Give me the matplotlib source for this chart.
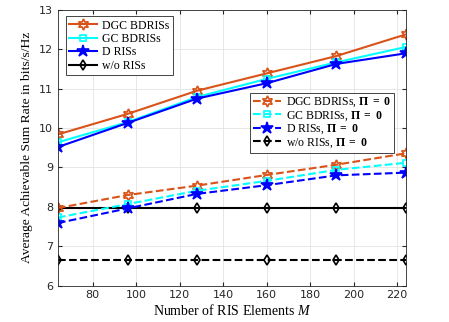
import matplotlib
matplotlib.use("Agg")
import matplotlib.pyplot as plt
import numpy as np

# Daten
M = [64, 96, 128, 160, 192, 224]
dgc = [9.84, 10.36, 10.95, 11.39, 11.83, 12.38]
gc = [9.64, 10.15, 10.79, 11.25, 11.67, 12.06]
d_ris = [9.52, 10.13, 10.75, 11.14, 11.63, 11.90]
wo = [7.97, 7.97, 7.97, 7.97, 7.97, 7.97]
dgc_0 = [7.97, 8.30, 8.54, 8.81, 9.07, 9.36]
gc_0 = [7.73, 8.07, 8.41, 8.66, 8.94, 9.12]
d_ris_0 = [7.59, 7.96, 8.33, 8.55, 8.80, 8.87]
wo_0 = [6.66, 6.66, 6.66, 6.66, 6.66, 6.66]

labels = ["DGC BDRISs", "GC BDRISs", "D RISs", "w/o RISs"]
labels_0 = [r"DGC BDRISs, $\mathbf{\Pi}\ \mathbf{=}\ \mathbf{0}$",
            r"GC BDRISs, $\mathbf{\Pi}\ \mathbf{=}\ \mathbf{0}$",
            r"D RISs, $\mathbf{\Pi}\ \mathbf{=}\ \mathbf{0}$",
            r"w/o RISs, $\mathbf{\Pi}\ \mathbf{=}\ \mathbf{0}$"]

farben = ["#D95319", "#00FFFF", "#0000FF", "#000000"]
hexagram = (6, 1, 0)
marker = [hexagram, "s", "*", "d"]
msize = [8, 5, 9, 5]
face = ["none", "none", "#0000FF", "none"]

plt.rcParams['mathtext.fontset'] = 'custom'
plt.rcParams['mathtext.rm'] = 'Liberation Serif'
plt.rcParams['mathtext.it'] = 'Liberation Serif:italic'
plt.rcParams['mathtext.bf'] = 'Liberation Serif:bold'
serif = "Liberation Serif"

fig = plt.figure(figsize=(4.49, 3.22), dpi=100)
ax = fig.add_axes([0.129, 0.113, 0.775, 0.856])

h1 = []
for y, lab, c, m, ms, fc in zip([dgc, gc, d_ris, wo], labels, farben, marker, msize, face):
    l, = ax.plot(M, y, '-', color=c, marker=m, ms=ms, mfc=fc, mec=c, mew=1.2, lw=1.5, label=lab)
    h1.append(l)
h2 = []
for y, lab, c, m, ms, fc in zip([dgc_0, gc_0, d_ris_0, wo_0], labels_0, farben, marker, msize, face):
    l, = ax.plot(M, y, '--', color=c, marker=m, ms=ms, mfc=fc, mec=c, mew=1.2, lw=1.5, label=lab)
    h2.append(l)

ax.set_xlim(64, 224)
ax.set_ylim(6, 13)
ax.set_xticks(np.arange(80, 221, 20))
ax.set_yticks(np.arange(6, 14, 1))
ax.tick_params(direction='in', labelsize=8, length=3, colors='#262626', top=True, right=True,
               labeltop=False, labelright=False)
ax.grid(True, color='#e3e3e3', lw=0.6)
ax.set_axisbelow(True)
for s in ax.spines.values():
    s.set_color('#262626')
    s.set_linewidth(0.6)

ax.set_xlabel(r"Number of RIS Elements $M$", fontsize=10, family=serif, labelpad=2)
ax.set_ylabel("Average Achievable Sum Rate in bits/s/Hz", fontsize=9.7, family=serif, labelpad=4)

leg1 = ax.legend(handles=h1, loc='upper left', bbox_to_anchor=(0.022, 0.978),
                 prop={'family': serif, 'size': 8.5}, fancybox=False, edgecolor='#262626',
                 framealpha=1, handlelength=2.4, borderpad=0.3, labelspacing=0.12, handletextpad=0.4,
                 borderaxespad=0)
leg1.get_frame().set_linewidth(0.6)
ax.add_artist(leg1)
leg2 = ax.legend(handles=h2, loc='upper right', bbox_to_anchor=(0.965, 0.70),
                 prop={'family': serif, 'size': 8.5}, fancybox=False, edgecolor='#262626',
                 framealpha=1, handlelength=2.4, borderpad=0.25, labelspacing=0.0, handletextpad=0.4,
                 borderaxespad=0)
leg2.get_frame().set_linewidth(0.6)

fig.savefig("out.png", dpi=100)
